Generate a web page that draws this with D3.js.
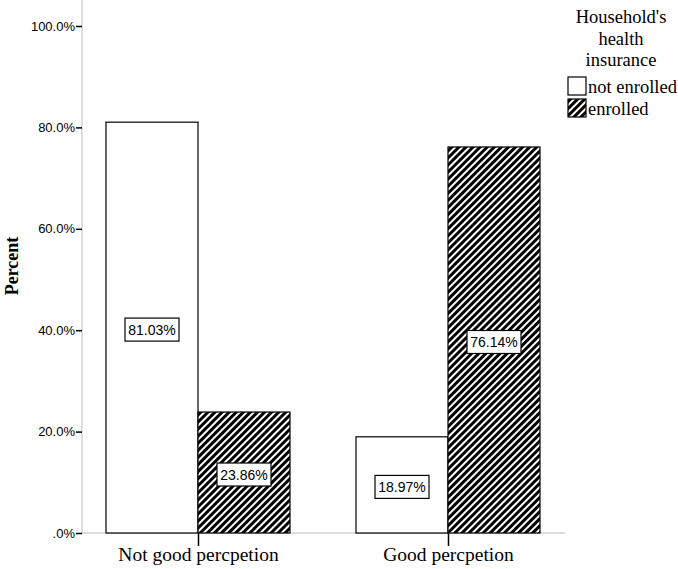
<!DOCTYPE html>
<html><head><meta charset="utf-8">
<script src="https://cdnjs.cloudflare.com/ajax/libs/d3/7.8.5/d3.min.js"></script>
<style>body{margin:0;background:#fff}svg{display:block}</style>
</head><body>
<script>
const categories = ["Not good percpetion", "Good percpetion"];
const seriesNames = ["not enrolled", "enrolled"];
const notEnrolled = [81.03, 18.97];
const enrolled = [23.86, 76.14];
const yTicks = [0, 20, 40, 60, 80, 100];
const yTickLabels = [".0%", "20.0%", "40.0%", "60.0%", "80.0%", "100.0%"];
const legendTitle = ["Household's", "health", "insurance"];

const W = 678, H = 569;
const serif = "Liberation Serif, Times New Roman, serif";
const sans = "Liberation Sans, Arial, sans-serif";
const svg = d3.select("body").append("svg").attr("width", W).attr("height", H);
const defs = svg.append("defs");
const pat = defs.append("pattern").attr("id", "hatch").attr("patternUnits", "userSpaceOnUse")
  .attr("width", 5).attr("height", 5).attr("patternTransform", "rotate(45)");
pat.append("rect").attr("width", 5).attr("height", 5).attr("fill", "#000");
pat.append("rect").attr("x", 0).attr("width", 2).attr("height", 5).attr("fill", "#fff");

const x0 = 82, x1 = 565, yTop = 26, yBot = 533;
const y = d3.scaleLinear().domain([0, 100]).range([yBot, yTop]);
const xCat = d3.scalePoint().domain(categories).range([198, 448]);
const barW = 92;

// axes
const yAxis = d3.axisLeft(y).tickValues(yTicks).tickFormat((d, i) => yTickLabels[i]).tickSize(6).tickPadding(1);
const gy = svg.append("g").attr("transform", `translate(${x0},0)`).call(yAxis);
gy.select(".domain").attr("stroke", "#bbb").attr("d", `M0,${yBot}V0`);
gy.selectAll(".tick line").attr("stroke", "#000").attr("stroke-width", 1.5).attr("x2", -6);
gy.selectAll(".tick text").attr("font-family", sans).attr("font-size", 13).attr("fill", "#000");

const xAxis = d3.axisBottom(xCat).tickSize(13).tickFormat(d => d);
const gx = svg.append("g").attr("transform", `translate(0,${yBot})`).call(xAxis);
gx.select(".domain").attr("stroke", "#bbb").attr("d", `M${x0},0H${x1}`);
gx.selectAll(".tick line").attr("stroke", "#000").attr("stroke-width", 1.5);
gx.selectAll(".tick text").attr("font-family", serif).attr("font-size", 19.5).attr("fill", "#000")
  .attr("y", 28).attr("dy", 0);

// bars
const data = [];
categories.forEach((c, i) => {
  data.push({cat: c, s: 0, v: notEnrolled[i]});
  data.push({cat: c, s: 1, v: enrolled[i]});
});
const bx = d => d.s === 0 ? xCat(d.cat) - barW : xCat(d.cat);
svg.append("g").selectAll("rect").data(data).join("rect")
  .attr("x", bx).attr("y", d => y(d.v)).attr("width", barW).attr("height", d => yBot - y(d.v))
  .attr("fill", d => d.s === 0 ? "#fff" : "url(#hatch)").attr("stroke", "#000").attr("stroke-width", 1.2);

// value labels
const lab = svg.append("g").selectAll("g").data(data).join("g")
  .attr("transform", d => `translate(${bx(d) + barW / 2},${(y(d.v) + yBot) / 2 + 2})`);
lab.append("rect").attr("x", -27).attr("y", -11.5).attr("width", 54).attr("height", 23)
  .attr("fill", "#fff").attr("stroke", "#000").attr("stroke-width", 1.2);
lab.append("text").attr("text-anchor", "middle").attr("dy", "0.36em")
  .attr("font-family", sans).attr("font-size", 14)
  .text(d => d.v.toFixed(2) + "%");

// y title
svg.append("text").attr("transform", `translate(18,${266}) rotate(-90)`)
  .attr("text-anchor", "middle").attr("font-family", serif)
  .attr("font-weight", "bold").attr("font-size", 18).text("Percent");

// legend
const lg = svg.append("g");
legendTitle.forEach((t, i) => {
  lg.append("text").attr("x", 621).attr("y", 23 + i * 21.5).attr("text-anchor", "middle")
    .attr("font-family", serif).attr("font-size", 18.5).text(t);
});
seriesNames.forEach((n, i) => {
  lg.append("rect").attr("x", 568).attr("y", 77 + i * 22).attr("width", 18).attr("height", 18)
    .attr("fill", i === 0 ? "#fff" : "url(#hatch)").attr("stroke", "#000").attr("stroke-width", 1.2);
  lg.append("text").attr("x", 588).attr("y", 93 + i * 22)
    .attr("font-family", serif).attr("font-size", 18.5).text(n);
});
</script>
</body></html>
